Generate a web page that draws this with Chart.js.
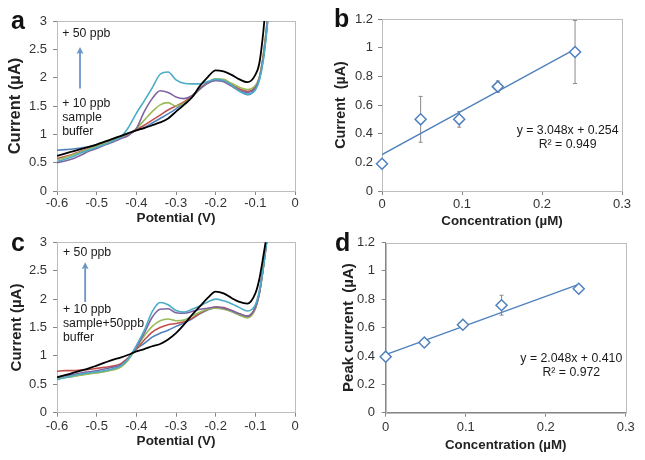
<!DOCTYPE html>
<html>
<head>
<meta charset="utf-8">
<script src="https://cdn.jsdelivr.net/npm/chart.js@4.4.1/dist/chart.umd.min.js"></script>
<style>
  html,body{margin:0;padding:0;background:#fff;}
  #wrap{position:relative;width:645px;height:460px;overflow:hidden;}
  canvas{position:absolute;}
  .lbl{position:absolute;font-family:"Liberation Sans",Arial,sans-serif;font-weight:bold;font-size:25px;line-height:25px;color:#111;}
</style>
</head>
<body>
<div id="wrap">
  <canvas id="ca" width="310" height="232" style="left:0;top:0"></canvas>
  <canvas id="cb" width="325" height="232" style="left:320px;top:0"></canvas>
  <canvas id="cc" width="310" height="232" style="left:0;top:228px"></canvas>
  <canvas id="cd" width="325" height="232" style="left:320px;top:228px"></canvas>
  <div class="lbl" style="left:11px;top:8px">a</div>
  <div class="lbl" style="left:334px;top:6px">b</div>
  <div class="lbl" style="left:11px;top:230px">c</div>
  <div class="lbl" style="left:335px;top:230px">d</div>
</div>
<script>
// ---------- DATA ----------
const POTENTIAL = [-0.60,-0.58,-0.56,-0.54,-0.52,-0.50,-0.48,-0.46,-0.44,-0.42,-0.40,-0.38,-0.36,-0.34,-0.32,-0.30,-0.28,-0.26,-0.24,-0.22,-0.20,-0.18,-0.16,-0.14,-0.12,-0.10,-0.09,-0.08,-0.07,-0.06];

// panel a
const A_BUFFER = [0.62,0.66,0.70,0.74,0.78,0.82,0.87,0.92,0.97,1.02,1.07,1.11,1.16,1.21,1.28,1.40,1.52,1.65,1.85,2.01,2.13,2.11,2.05,1.97,1.92,2.05,2.25,2.80,3.60,4.20];
const A_SAMPLE = [0.72,0.73,0.74,0.76,0.78,0.82,0.86,0.91,0.96,1.02,1.07,1.12,1.20,1.28,1.36,1.45,1.55,1.68,1.80,1.90,1.95,1.94,1.87,1.77,1.70,1.80,1.98,2.35,2.95,3.80];
const A_10PPB  = [0.57,0.61,0.65,0.70,0.75,0.80,0.85,0.90,0.95,1.01,1.08,1.16,1.25,1.34,1.43,1.50,1.57,1.67,1.80,1.91,1.96,1.95,1.88,1.80,1.76,1.84,2.00,2.40,3.00,3.80];
const A_20PPB  = [0.55,0.59,0.64,0.69,0.74,0.79,0.84,0.89,0.94,1.00,1.10,1.25,1.40,1.52,1.56,1.50,1.55,1.65,1.80,1.92,1.98,1.97,1.90,1.83,1.79,1.86,2.00,2.40,3.00,3.80];
const A_30PPB  = [0.50,0.53,0.57,0.63,0.70,0.75,0.81,0.86,0.92,0.98,1.10,1.40,1.63,1.77,1.74,1.66,1.63,1.68,1.80,1.91,1.95,1.93,1.85,1.77,1.74,1.82,1.98,2.35,2.95,3.80];
const A_50PPB  = [0.52,0.56,0.61,0.67,0.72,0.77,0.82,0.88,0.95,1.12,1.37,1.59,1.82,2.06,2.10,1.96,1.90,1.89,1.89,1.93,1.97,1.95,1.87,1.76,1.71,1.78,1.95,2.30,2.90,3.80];

// panel c
const C_BUFFER   = [0.62,0.66,0.70,0.74,0.78,0.83,0.88,0.93,0.97,1.02,1.08,1.12,1.17,1.21,1.29,1.40,1.55,1.72,1.87,2.02,2.13,2.10,2.02,1.95,1.92,2.10,2.35,2.75,3.20,3.80];
const C_SAMPLE50 = [0.60,0.62,0.64,0.67,0.69,0.71,0.73,0.77,0.83,0.95,1.12,1.22,1.33,1.40,1.45,1.52,1.58,1.65,1.74,1.81,1.85,1.84,1.78,1.72,1.68,1.85,2.10,2.55,3.10,3.70];
const C_10PPB    = [0.73,0.74,0.74,0.75,0.76,0.78,0.80,0.82,0.86,0.97,1.12,1.28,1.42,1.50,1.55,1.57,1.60,1.66,1.75,1.82,1.86,1.85,1.80,1.74,1.70,1.85,2.10,2.55,3.10,3.70];
const C_20PPB    = [0.60,0.62,0.64,0.66,0.68,0.70,0.72,0.75,0.80,0.93,1.15,1.35,1.52,1.62,1.65,1.62,1.63,1.70,1.77,1.82,1.84,1.82,1.78,1.72,1.67,1.82,2.10,2.55,3.10,3.70];
const C_30PPB    = [0.63,0.65,0.67,0.70,0.72,0.74,0.77,0.80,0.84,0.96,1.15,1.40,1.68,1.82,1.83,1.76,1.75,1.78,1.82,1.84,1.86,1.84,1.80,1.74,1.70,1.85,2.10,2.55,3.10,3.70];
const C_50PPB    = [0.58,0.62,0.65,0.68,0.70,0.72,0.74,0.77,0.82,0.95,1.18,1.45,1.78,1.94,1.90,1.80,1.77,1.82,1.88,1.95,2.00,1.97,1.92,1.85,1.79,1.90,2.15,2.55,3.10,3.70];

// panels b and d
const CONCENTRATION = [0, 0.0483, 0.0965, 0.1448, 0.2413];
const B_CURRENT = [0.19, 0.50, 0.50, 0.728, 0.97];
const B_ERROR   = [0.01, 0.16, 0.055, 0.04, 0.22];
const B_FIT     = [3.048, 0.254];   // slope, intercept (from printed equation)
const D_CURRENT = [0.395, 0.495, 0.62, 0.758, 0.874];
const D_ERROR   = [0.02, 0.02, 0.02, 0.07, 0.02];
const D_FIT     = [2.048, 0.410];

// ---------- STYLE ----------
const FONT = '"Liberation Sans", Arial, sans-serif';
const COLORS = {black:'#000000', blue:'#4F81BD', red:'#C0504D', green:'#9BBB59', purple:'#8064A2', cyan:'#4BACC6'};
const AXIS = '#868686';
const TICKTXT = '#333333';
Chart.defaults.font.family = FONT;

const fmt = v => String(+(+v).toFixed(2));

function plotBorder(){
  return {id:'plotBorder', beforeDatasetsDraw(chart){
    const a = chart.chartArea, ctx = chart.ctx;
    ctx.save(); ctx.strokeStyle = '#bdbdbd'; ctx.lineWidth = 1;
    ctx.strokeRect(Math.round(a.left)+0.5, Math.round(a.top)+0.5, Math.round(a.right-a.left), Math.round(a.bottom-a.top));
    ctx.restore();
  }};
}
function notes(items){
  return {id:'notes', afterDatasetsDraw(chart){
    const ctx = chart.ctx, xs = chart.scales.x, ys = chart.scales.y;
    items.forEach(it=>{
      ctx.save();
      if (it.arrow){
        const x = xs.getPixelForValue(it.x), y1 = ys.getPixelForValue(it.from), y2 = ys.getPixelForValue(it.to);
        ctx.strokeStyle = '#6a95c9'; ctx.fillStyle = '#6a95c9'; ctx.lineWidth = 1.8;
        ctx.beginPath(); ctx.moveTo(x, y1); ctx.lineTo(x, y2+4); ctx.stroke();
        ctx.beginPath(); ctx.moveTo(x, y2); ctx.lineTo(x-3.5, y2+7); ctx.lineTo(x, y2+5.5); ctx.lineTo(x+3.5, y2+7); ctx.closePath(); ctx.fill();
      } else {
        ctx.font = '12.3px ' + FONT; ctx.fillStyle = '#1a1a1a';
        ctx.textAlign = it.align || 'left'; ctx.textBaseline = 'middle';
        ctx.fillText(it.text, xs.getPixelForValue(it.x), ys.getPixelForValue(it.y));
      }
      ctx.restore();
    });
  }};
}

function axes(cfg){
  const grid = {display:true, drawOnChartArea:false, drawTicks:true, tickLength:4, color:AXIS};
  const border = {display:true, color:AXIS, width:1};
  return {
    x:{type:'linear', min:cfg.xmin, max:cfg.xmax, grid, border,
       ticks:{stepSize:cfg.xstep, color:TICKTXT, font:{size:13}, padding:cfg.xtp, maxRotation:0, autoSkip:false, callback:fmt},
       title:{display:true, text:cfg.xtitle, color:'#222', font:{size:cfg.xts, weight:'bold'}, padding:{top:0,bottom:cfg.xtpad}},
       afterFit: s => { s.height = cfg.xh; }},
    y:{type:'linear', min:cfg.ymin, max:cfg.ymax, grid, border,
       ticks:{stepSize:cfg.ystep, color:TICKTXT, font:{size:13}, padding:cfg.ytp, callback:fmt},
       title:{display:true, text:cfg.ytitle, color:'#222', font:{size:cfg.yts, weight:'bold'}, padding:{top:cfg.ytpad,bottom:0}},
       afterFit: s => { s.width = cfg.yw; }}
  };
}

function curve(ys, color, w){
  return {data: POTENTIAL.map((x,i)=>({x, y: ys[i]})), showLine:true, borderColor:color, borderWidth:w||1.6,
          pointRadius:0, cubicInterpolationMode:'monotone', fill:false};
}

function voltChart(id, series, pad, cfg, noteItems){
  new Chart(document.getElementById(id), {
    type:'scatter',
    data:{datasets: series},
    options:{responsive:false, animation:false, devicePixelRatio:1,
      layout:{padding:pad},
      plugins:{legend:{display:false}, tooltip:{enabled:false}},
      scales: axes(cfg)},
    plugins:[plotBorder(), notes(noteItems)]
  });
}

function calChart(id, yv, err, fit, pad, cfg, noteItems){
  const marks = {data: CONCENTRATION.map((x,i)=>({x, y:yv[i]})), pointStyle:'rectRot', pointRadius:5.5,
    pointBorderColor:'#4F81BD', pointBackgroundColor:'#ffffff', pointBorderWidth:1.5, showLine:false, clip:false};
  const xEnd = CONCENTRATION[CONCENTRATION.length-1];
  const trend = {data:[{x:0, y:fit[1]}, {x:xEnd, y:fit[0]*xEnd+fit[1]}], showLine:true, borderColor:'#4F81BD',
    borderWidth:1.3, pointRadius:0};
  const ebData = [];
  CONCENTRATION.forEach((x,i)=>{ ebData.push({x, y:yv[i]-err[i]}, {x, y:yv[i]+err[i]}, {x, y:null}); });
  const bars = {data:ebData, showLine:true, spanGaps:false, borderColor:'#8a8a8a', borderWidth:1,
    pointStyle:'line', pointRadius:2, pointBorderColor:'#8a8a8a', pointBorderWidth:1, clip:false};
  new Chart(document.getElementById(id), {
    type:'scatter',
    data:{datasets:[marks, trend, bars]},
    options:{responsive:false, animation:false, devicePixelRatio:1,
      layout:{padding:pad},
      plugins:{legend:{display:false}, tooltip:{enabled:false}},
      scales: axes(cfg)},
    plugins:[plotBorder(), notes(noteItems)]
  });
}

// ---------- PANELS ----------
voltChart('ca', [
  curve(A_BUFFER, COLORS.black, 1.8),
  curve(A_50PPB, COLORS.cyan), curve(A_30PPB, COLORS.purple), curve(A_20PPB, COLORS.green),
  curve(A_10PPB, COLORS.red), curve(A_SAMPLE, COLORS.blue)
], {top:21, right:15, left:0, bottom:0},
{xmin:-0.6, xmax:0, xstep:0.1, ymin:0, ymax:3, ystep:0.5, xh:41, yw:57, xtp:1, ytp:6,
 xtitle:'Potential (V)', ytitle:'Current (µA)', xts:13.5, yts:16.5, xtpad:6, ytpad:6},
[ {text:'+ 50 ppb', x:-0.587, y:2.78},
  {arrow:true, x:-0.542, from:1.81, to:2.54},
  {text:'+ 10 ppb', x:-0.587, y:1.55},
  {text:'sample', x:-0.587, y:1.30},
  {text:'buffer', x:-0.587, y:1.04} ]);

calChart('cb', B_CURRENT, B_ERROR, B_FIT, {top:19, right:23, left:0, bottom:0},
{xmin:0, xmax:0.3, xstep:0.1, ymin:0, ymax:1.2, ystep:0.2, xh:41, yw:62, xtp:2, ytp:5,
 xtitle:'Concentration (µM)', ytitle:'Current  (µA)', xts:13.3, yts:14.3, xtpad:2.3, ytpad:12},
[ {text:'y = 3.048x + 0.254', x:0.232, y:0.421, align:'center'},
  {text:'R² = 0.949', x:0.232, y:0.321, align:'center'} ]);

voltChart('cc', [
  curve(C_BUFFER, COLORS.black, 1.8),
  curve(C_50PPB, COLORS.cyan), curve(C_30PPB, COLORS.purple), curve(C_20PPB, COLORS.green),
  curve(C_10PPB, COLORS.red), curve(C_SAMPLE50, COLORS.blue)
], {top:14.3, right:15, left:0, bottom:0},
{xmin:-0.6, xmax:0, xstep:0.1, ymin:0, ymax:3, ystep:0.5, xh:47.3, yw:57, xtp:2.2, ytp:6,
 xtitle:'Potential (V)', ytitle:'Current (µA)', xts:13.5, yts:15, xtpad:10.2, ytpad:8},
[ {text:'+ 50 ppb', x:-0.585, y:2.81},
  {arrow:true, x:-0.529, from:1.95, to:2.65},
  {text:'+ 10 ppb', x:-0.585, y:1.81},
  {text:'sample+50ppb', x:-0.585, y:1.56},
  {text:'buffer', x:-0.585, y:1.32} ]);

calChart('cd', D_CURRENT, D_ERROR, D_FIT, {top:12.7, right:19.3, left:0, bottom:0},
{xmin:0, xmax:0.3, xstep:0.1, ymin:0, ymax:1.2, ystep:0.2, xh:47.3, yw:65.7, xtp:2.7, ytp:6.7,
 xtitle:'Concentration (µM)', ytitle:'Peak current  (µA)', xts:13.3, yts:15, xtpad:7, ytpad:20},
[ {text:'y = 2.048x + 0.410', x:0.232, y:0.38, align:'center'},
  {text:'R² = 0.972', x:0.232, y:0.286, align:'center'} ]);
</script>
</body>
</html>
